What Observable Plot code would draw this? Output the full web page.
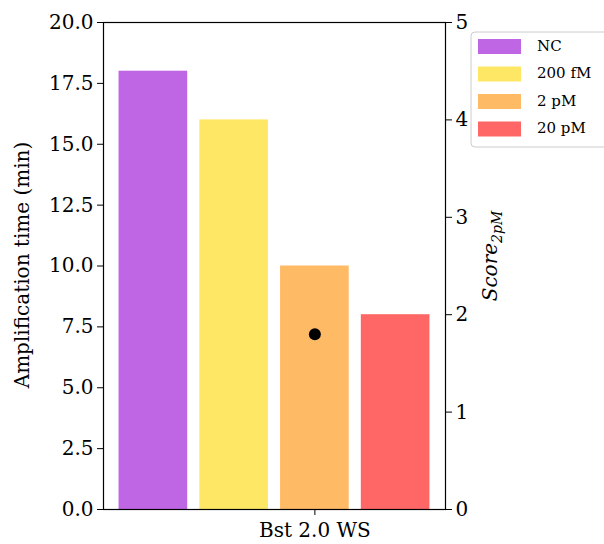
<!DOCTYPE html>
<html>
<head>
<meta charset="utf-8">
<script src="https://cdn.jsdelivr.net/npm/d3@7"></script>
<script src="https://cdn.jsdelivr.net/npm/@observablehq/plot@0.6"></script>
<style>
  html, body { margin: 0; padding: 0; background: white; }
  #chart { position: relative; width: 604px; height: 544px; }
</style>
</head>
<body>
<div id="chart"></div>
<script>
const categories = ["NC", "200 fM", "2 pM", "20 pM"];
const times = [18, 16, 10, 8];
const colors = ["#bf66e5", "#ffe766", "#ffba66", "#ff6666"];
const groupLabel = "Bst 2.0 WS";
const score2pM = 1.8;
const leftTicks = [0, 2.5, 5, 7.5, 10, 12.5, 15, 17.5, 20];
const rightTicks = [0, 1, 2, 3, 4, 5];
const scoreToTime = 4; // right axis 0–5 maps onto left 0–20

const slot = 0.2, barW = 0.17;
const bars = categories.map((c, i) => ({ c, t: times[i], xc: (i - 2) * slot }));

const FONT = "DejaVu Serif";

const svg = Plot.plot({
  width: 604,
  height: 544,
  marginLeft: 103,
  marginRight: 159,
  marginTop: 22,
  marginBottom: 35,
  style: { fontFamily: FONT, fontSize: "20px", background: "white", color: "black" },
  x: { domain: [-0.5235, 0.3235] },
  y: { domain: [0, 20] },
  color: { domain: categories, range: colors },
  marks: [
    Plot.rectY(bars, { x1: d => d.xc - barW / 2, x2: d => d.xc + barW / 2, y1: 0, y2: "t", fill: "c" }),
    Plot.dot([score2pM], { x: 0, y: d => d * scoreToTime, r: 6, fill: "black" }),
    Plot.frame({ stroke: "black", strokeWidth: 1.2 }),
    Plot.axisX([0], { tickFormat: () => groupLabel, fontSize: 20, tickSize: 6, tickPadding: 7, label: null, stroke: "black" }),
    Plot.axisY(leftTicks, { anchor: "left", tickFormat: d3.format(".1f"), fontSize: 20, tickSize: 6, tickPadding: 4, label: null }),
    Plot.axisY(rightTicks.map(v => v * scoreToTime), { anchor: "right", tickFormat: d => String(d / scoreToTime), fontSize: 20, tickSize: 6, tickPadding: 4, label: null })
  ]
});

document.getElementById("chart").appendChild(svg);

const s = d3.select(svg);

// Left axis title
s.append("text")
  .attr("transform", "translate(23,265) rotate(-90)")
  .attr("text-anchor", "middle")
  .attr("dominant-baseline", "middle")
  .attr("font-family", FONT)
  .attr("font-size", 20)
  .attr("fill", "black")
  .text("Amplification time (min)");

// Right axis title with subscript
const rt = s.append("text")
  .attr("transform", "translate(497,256) rotate(-90)")
  .attr("text-anchor", "middle")
  .attr("font-family", FONT)
  .attr("font-size", 20)
  .attr("fill", "black");
rt.append("tspan").attr("font-style", "italic").text("Score");
rt.append("tspan").attr("font-style", "italic").attr("font-size", 14).attr("dy", 5).text("2pM");

// Legend
const lg = s.append("g");
lg.append("rect")
  .attr("x", 471).attr("y", 32).attr("width", 140).attr("height", 115)
  .attr("rx", 4).attr("fill", "white").attr("fill-opacity", 0.8)
  .attr("stroke", "#cccccc").attr("stroke-width", 1);
categories.forEach((c, i) => {
  const y = 39 + i * 27.5;
  lg.append("rect").attr("x", 478).attr("y", y).attr("width", 43).attr("height", 15).attr("fill", colors[i]);
  lg.append("text").attr("x", 537).attr("y", y + 7.5)
    .attr("text-anchor", "start")
    .attr("dominant-baseline", "middle")
    .attr("font-family", FONT).attr("font-size", 15).attr("fill", "black")
    .text(c);
});
</script>
</body>
</html>
